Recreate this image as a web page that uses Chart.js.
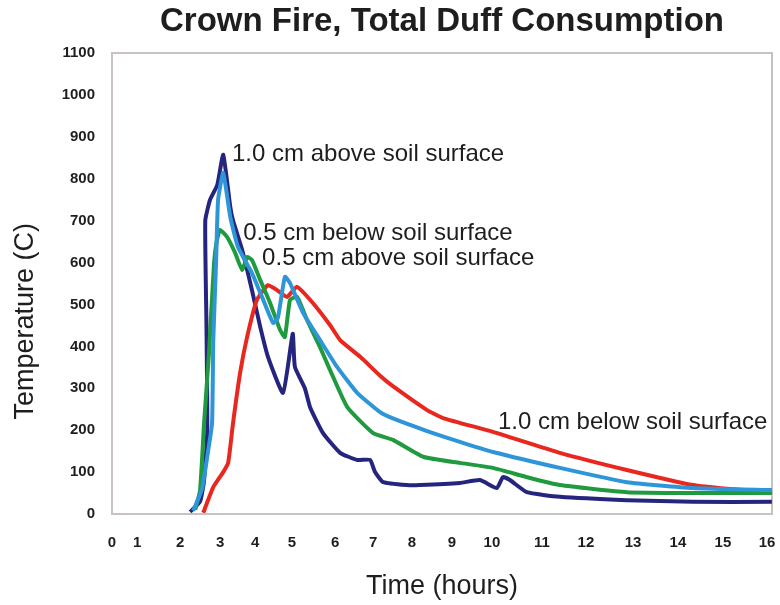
<!DOCTYPE html>
<html>
<head>
<meta charset="utf-8">
<title>Crown Fire, Total Duff Consumption</title>
<script src="https://cdn.jsdelivr.net/npm/chart.js@4.4.1/dist/chart.umd.min.js"></script>
<style>
  html, body { margin: 0; padding: 0; background: #fff; }
  #wrap { width: 780px; height: 605px; position: relative; }
</style>
</head>
<body>
<div id="wrap"><canvas id="chart"></canvas></div>
<script>
/* ---- hour labels on the time axis (the printed axis is not evenly spaced) ---- */
const hourTicks = [0, 1, 2, 3, 4, 5, 6, 7, 8, 9, 10, 11, 12, 13, 14, 15, 16];
const hourMarks = [0, 0.61, 1.65, 2.62, 3.47, 4.36, 5.41, 6.33, 7.27, 8.24, 9.21, 10.42, 11.49, 12.63, 13.72, 14.81, 15.88];
const tempTicks = [0, 100, 200, 300, 400, 500, 600, 700, 800, 900, 1000, 1100];

/* ---- series: time (hours) and temperature (C) ---- */
const above10Hours = [2.25, 2.5, 2.6, 2.68, 2.66, 2.63, 2.75, 2.93, 3.09, 3.29, 3.37, 3.63, 3.91, 4.14, 4.35, 4.76, 5.02, 5.07, 5.3, 5.42, 5.72, 6.13, 6.58, 6.92, 7.05, 7.26, 7.87, 8.2, 9.2, 9.7, 10.1, 10.22, 10.36, 10.7, 11.41, 12.87, 14.33, 16.11];
const above10Temp  = [5, 30, 80, 200, 450, 700, 750, 785, 857, 733, 700, 630, 534, 446, 375, 289, 430, 351, 300, 255, 193, 146, 129, 129, 100, 76, 69, 69, 74, 81, 62, 88, 81, 52, 41, 33, 29, 29];

const below05Hours = [2.33, 2.55, 2.7, 2.8, 2.83, 2.9, 2.95, 3.09, 3.29, 3.51, 3.91, 4.22, 4.49, 4.62, 4.81, 4.95, 5.26, 5.65, 6.05, 6.58, 7.18, 7.51, 8.38, 9.2, 10.02, 11.41, 12.87, 14.33, 16.11];
const below05Temp  = [8, 60, 150, 217, 415, 600, 749, 814, 709, 637, 575, 511, 456, 468, 566, 551, 480, 415, 351, 289, 243, 228, 198, 172, 148, 110, 76, 62, 57];

const above05Hours = [2.38, 2.5, 2.6, 2.72, 2.85, 2.92, 3.0, 3.2, 3.43, 3.63, 3.77, 3.91, 4.14, 4.41, 4.68, 4.81, 4.95, 5.12, 5.35, 5.65, 5.88, 6.32, 7.0, 7.51, 8.3, 9.2, 10.02, 10.7, 11.41, 12.87, 14.33, 16.11];
const above05Temp  = [10, 57, 217, 380, 600, 653, 678, 661, 623, 582, 613, 606, 558, 503, 439, 422, 511, 518, 463, 398, 344, 255, 193, 177, 136, 122, 110, 88, 69, 52, 50, 50];

const below10Hours = [2.58, 2.83, 3.09, 3.23, 3.37, 3.57, 3.77, 4.05, 4.35, 4.6, 4.87, 5.12, 5.49, 5.88, 6.13, 6.66, 7.18, 7.51, 8.38, 8.78, 10.02, 11.41, 12.87, 14.33, 15.09, 16.11];
const below10Temp  = [3, 64, 100, 122, 217, 336, 422, 511, 546, 534, 518, 542, 503, 451, 415, 375, 330, 305, 248, 229, 196, 146, 105, 69, 60, 52];

/* ---- curve labels written on the plot ---- */
const noteText  = ['1.0 cm above soil surface', '0.5 cm below soil surface', '0.5 cm above soil surface', '1.0 cm below soil surface'];
const noteHours = [3.34, 3.66, 4.19, 10.12];
const noteTemp  = [859, 670, 611, 219];

const FONT = '"Liberation Sans", Arial, sans-serif';
const INK  = '#1e1e1e';

/* hours -> position on the printed axis, piecewise between the hour labels */
function warp(h) {
  const n = hourTicks.length - 1;
  if (h <= hourTicks[0]) return hourMarks[0] + (h - hourTicks[0]) * (hourMarks[1] - hourMarks[0]);
  for (let i = 1; i <= n; i++) {
    if (h <= hourTicks[i]) {
      const f = (h - hourTicks[i - 1]) / (hourTicks[i] - hourTicks[i - 1]);
      return hourMarks[i - 1] + f * (hourMarks[i] - hourMarks[i - 1]);
    }
  }
  return hourMarks[n] + (h - hourTicks[n]) * (hourMarks[n] - hourMarks[n - 1]);
}
function unwarp(u) {
  const n = hourMarks.length - 1;
  for (let i = 1; i <= n; i++) {
    if (u <= hourMarks[i]) {
      const f = (u - hourMarks[i - 1]) / (hourMarks[i] - hourMarks[i - 1]);
      return hourTicks[i - 1] + f * (hourTicks[i] - hourTicks[i - 1]);
    }
  }
  return hourTicks[n] + (u - hourMarks[n]) / (hourMarks[n] - hourMarks[n - 1]);
}

class HourScale extends Chart.LinearScale {
  getPixelForValue(v) { return super.getPixelForValue(warp(v)); }
  getValueForPixel(p) { return unwarp(super.getValueForPixel(p)); }
}
HourScale.id = 'hours';
HourScale.defaults = Chart.LinearScale.defaults;
Chart.register(HourScale);

const pts = (xs, ys) => xs.map((x, i) => ({ x, y: ys[i] }));

const line = (label, xs, ys, color) => ({
  label,
  data: pts(xs, ys),
  borderColor: color,
  backgroundColor: color,
  borderWidth: 4,
  pointRadius: 0,
  tension: 0.15,
  fill: false,
});

/* frame around the plot area */
const framePlugin = {
  id: 'frame',
  beforeDatasetsDraw(chart) {
    const { ctx, chartArea: a } = chart;
    ctx.save();
    ctx.strokeStyle = '#c9c2c2';
    ctx.lineWidth = 2;
    ctx.strokeRect(a.left, a.top, a.right - a.left, a.bottom - a.top);
    ctx.restore();
  },
};

/* curve names + the temperature axis title (sits a bit below the axis middle) */
const notesPlugin = {
  id: 'notes',
  afterDatasetsDraw(chart) {
    const { ctx, scales: { x, y } } = chart;
    ctx.save();
    ctx.font = '24px ' + FONT;
    ctx.fillStyle = INK;
    ctx.textAlign = 'left';
    ctx.textBaseline = 'middle';
    noteText.forEach((t, i) => {
      ctx.fillText(t, x.getPixelForValue(noteHours[i]), y.getPixelForValue(noteTemp[i]));
    });

    ctx.font = '27px ' + FONT;
    ctx.textAlign = 'center';
    ctx.translate(26, y.getPixelForValue(460));
    ctx.rotate(-Math.PI / 2);
    ctx.fillText('Temperature (C)', 0, 0);
    ctx.restore();
  },
};

new Chart(document.getElementById('chart'), {
  type: 'line',
  data: {
    datasets: [
      line('0.5 cm below soil surface', below05Hours, below05Temp, '#2e96d8'),
      line('0.5 cm above soil surface', above05Hours, above05Temp, '#1f9a3f'),
      line('1.0 cm below soil surface', below10Hours, below10Temp, '#e8281f'),
      line('1.0 cm above soil surface', above10Hours, above10Temp, '#25257f'),
    ],
  },
  options: {
    responsive: true,
    maintainAspectRatio: false,
    animation: false,
    events: [],
    layout: { padding: { top: 0, right: 8, bottom: 0, left: 0 } },
    plugins: {
      legend: { display: false },
      tooltip: { enabled: false },
      title: {
        display: true,
        fullSize: false,
        text: 'Crown Fire, Total Duff Consumption',
        color: INK,
        font: { family: FONT, size: 33, weight: 'bold' },
        padding: { top: 2, bottom: 11.4 },
      },
    },
    scales: {
      x: {
        type: 'hours',
        min: 0,
        max: 16,
        grid: { display: false, drawTicks: false },
        border: { display: false },
        afterBuildTicks: s => { s.ticks = hourTicks.map(v => ({ value: v })); },
        afterFit: s => { s.height = 91; s.paddingLeft = 0; s.paddingRight = 0; },
        ticks: {
          autoSkip: false,
          maxRotation: 0,
          padding: 20,
          color: INK,
          font: { family: FONT, size: 15, weight: 'bold' },
        },
        title: {
          display: true,
          text: 'Time (hours)',
          color: INK,
          font: { family: FONT, size: 27 },
          padding: { top: 0, bottom: 2 },
        },
      },
      y: {
        min: 0,
        max: 1100,
        grid: { display: false, drawTicks: false },
        border: { display: false },
        afterBuildTicks: s => { s.ticks = tempTicks.map(v => ({ value: v })); },
        afterFit: s => { s.width = 112; },
        ticks: {
          padding: 17,
          color: INK,
          font: { family: FONT, size: 15, weight: 'bold' },
          callback: v => String(v),
        },
        title: { display: false },
      },
    },
  },
  plugins: [framePlugin, notesPlugin],
});
</script>
</body>
</html>
